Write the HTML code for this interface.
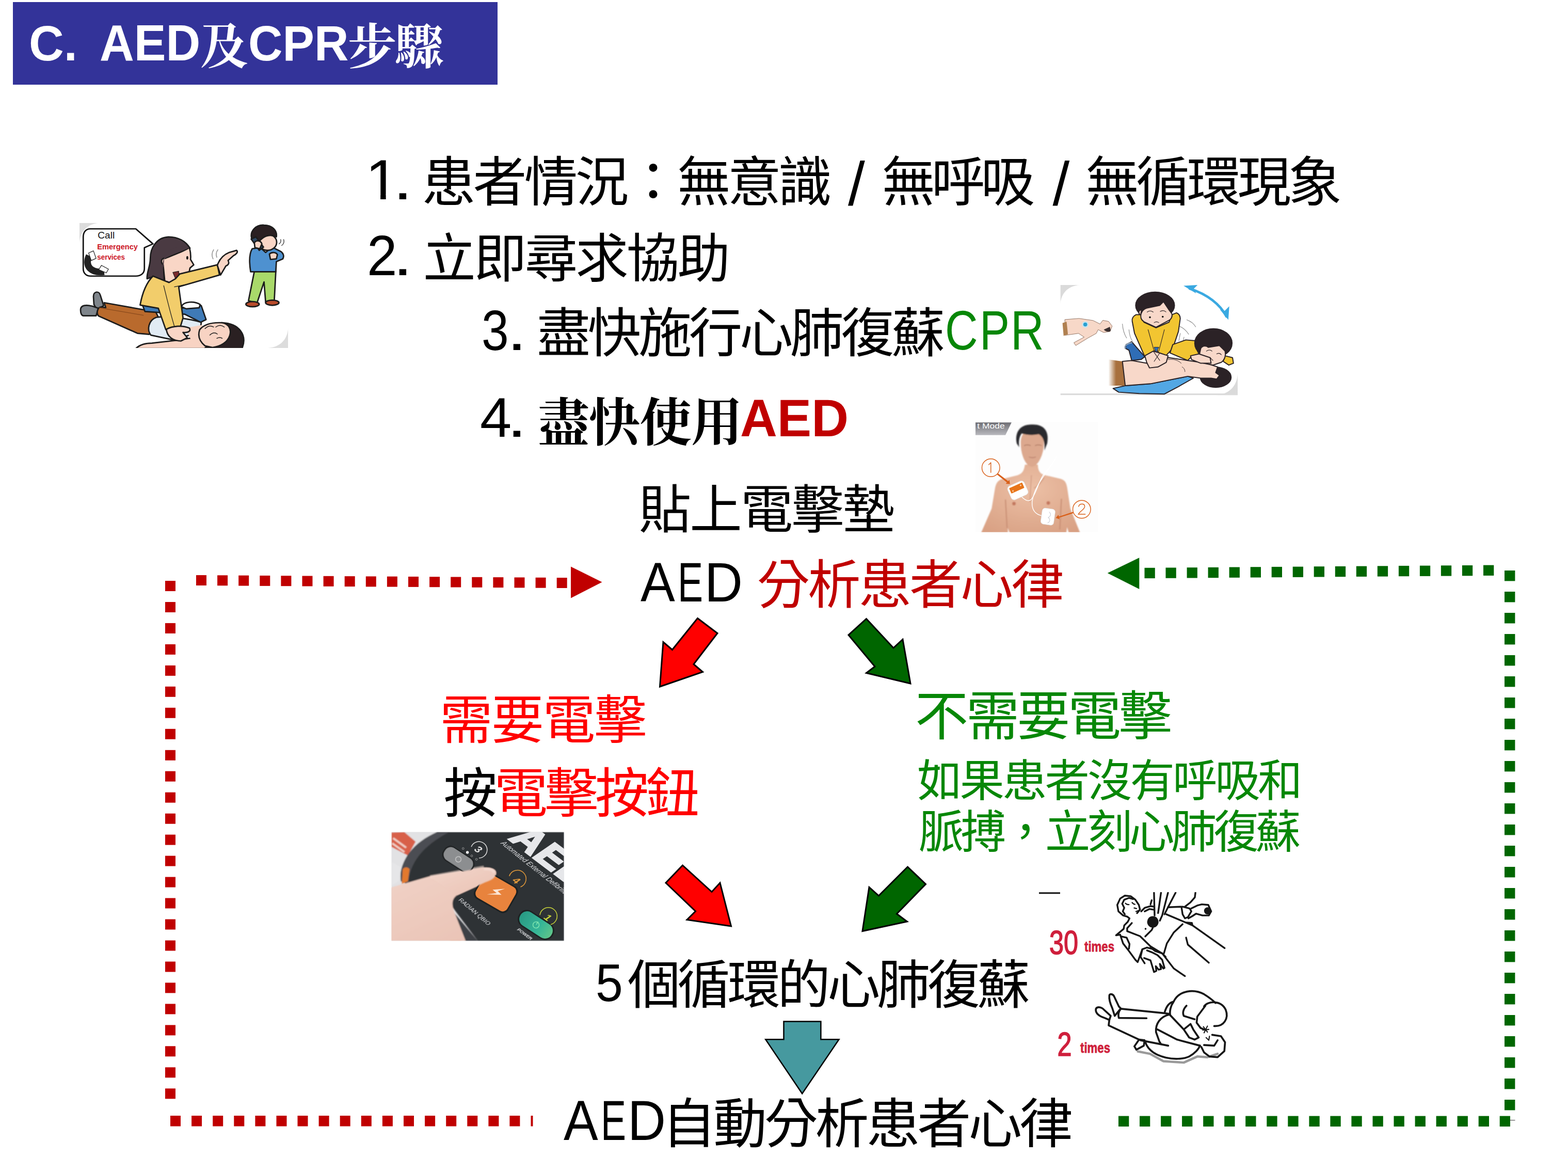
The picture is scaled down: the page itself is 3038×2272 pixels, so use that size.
<!DOCTYPE html>
<html lang="zh-Hant">
<head>
<meta charset="utf-8">
<title>C. AED及CPR步驟</title>
<style>
html,body{margin:0;padding:0;background:#fff}
#slide{position:relative;width:3038px;height:2272px;overflow:hidden;background:#fff;font-family:"Liberation Sans",sans-serif}
#titlebar{position:absolute;left:25px;top:4px;width:939px;height:160px;background:#333399}
.layer{position:absolute;left:0;top:0}
.ill{position:absolute}
.t{position:absolute;white-space:pre;line-height:1;transform-origin:0 0;font-weight:400}
.t.b{font-weight:700}
.sr{position:absolute;left:0;top:0;width:1px;height:1px;margin:-1px;padding:0;overflow:hidden;clip:rect(0 0 0 0);clip-path:inset(50%);white-space:nowrap;color:transparent;font-size:1px}
.lw{display:inline-block;vertical-align:baseline}
.ls{display:inline-block;transform-origin:0 0}
.cj{font-family:"Liberation Sans","Noto Sans CJK SC",sans-serif;font-weight:400}
.cm{font-family:"Liberation Serif","Noto Serif CJK SC",serif;font-weight:700}
</style>
</head>
<body>
<div id="slide">
<div id="titlebar"></div>

<svg class="layer" width="3038" height="2272" viewBox="0 0 3038 2272">
<polygon points="1351.5,1197.5 1390.0,1226.5 1344.0,1286.5 1361.5,1301.5 1278.5,1330.0 1285.0,1243.5 1302.5,1258.5" fill="#ff0000" stroke="#000" stroke-width="3" stroke-linejoin="miter"/>
<polygon points="1678.5,1198.5 1731.0,1255.0 1749.0,1238.5 1764.0,1324.0 1678.5,1303.5 1695.0,1291.0 1644.0,1230.0" fill="#006600" stroke="#000" stroke-width="3" stroke-linejoin="miter"/>
<polygon points="1322.5,1676.0 1379.0,1727.5 1395.0,1710.0 1416.5,1794.0 1331.0,1781.5 1347.5,1765.0 1290.0,1710.0" fill="#ff0000" stroke="#000" stroke-width="3" stroke-linejoin="miter"/>
<polygon points="1758.5,1679.0 1793.5,1712.5 1737.5,1770.0 1757.5,1785.0 1671.0,1803.5 1684.0,1718.5 1702.5,1735.0" fill="#006600" stroke="#000" stroke-width="3" stroke-linejoin="miter"/>
<polygon points="1518.5,1978.5 1590.4,1978.5 1590.4,2013.3 1625.5,2013.3 1554.2,2118.3 1483.3,2013.3 1518.5,2013.3" fill="#46999f" stroke="#000" stroke-width="2.5" stroke-linejoin="miter"/>
<g fill="#c00000">
<rect x="380.0" y="1114.0" width="20.0" height="20.0"/>
<rect x="421.1" y="1114.3" width="20.0" height="20.0"/>
<rect x="462.2" y="1114.6" width="20.0" height="20.0"/>
<rect x="503.3" y="1114.9" width="20.0" height="20.0"/>
<rect x="544.4" y="1115.2" width="20.0" height="20.0"/>
<rect x="585.5" y="1115.5" width="20.0" height="20.0"/>
<rect x="626.6" y="1115.8" width="20.0" height="20.0"/>
<rect x="667.7" y="1116.1" width="20.0" height="20.0"/>
<rect x="708.8" y="1116.4" width="20.0" height="20.0"/>
<rect x="749.9" y="1116.6" width="20.0" height="20.0"/>
<rect x="791.0" y="1116.9" width="20.0" height="20.0"/>
<rect x="832.1" y="1117.2" width="20.0" height="20.0"/>
<rect x="873.2" y="1117.5" width="20.0" height="20.0"/>
<rect x="914.3" y="1117.8" width="20.0" height="20.0"/>
<rect x="955.4" y="1118.1" width="20.0" height="20.0"/>
<rect x="996.5" y="1118.4" width="20.0" height="20.0"/>
<rect x="1037.6" y="1118.7" width="20.0" height="20.0"/>
<rect x="1078.7" y="1119.0" width="20.0" height="20.0"/>
<rect x="320.0" y="1125.0" width="20.0" height="20.0"/>
<rect x="320.0" y="1166.0" width="20.0" height="20.0"/>
<rect x="320.0" y="1206.9" width="20.0" height="20.0"/>
<rect x="320.0" y="1247.9" width="20.0" height="20.0"/>
<rect x="320.0" y="1288.9" width="20.0" height="20.0"/>
<rect x="320.0" y="1329.8" width="20.0" height="20.0"/>
<rect x="320.0" y="1370.8" width="20.0" height="20.0"/>
<rect x="320.0" y="1411.8" width="20.0" height="20.0"/>
<rect x="320.0" y="1452.8" width="20.0" height="20.0"/>
<rect x="320.0" y="1493.7" width="20.0" height="20.0"/>
<rect x="320.0" y="1534.7" width="20.0" height="20.0"/>
<rect x="320.0" y="1575.7" width="20.0" height="20.0"/>
<rect x="320.0" y="1616.6" width="20.0" height="20.0"/>
<rect x="320.0" y="1657.6" width="20.0" height="20.0"/>
<rect x="320.0" y="1698.6" width="20.0" height="20.0"/>
<rect x="320.0" y="1739.5" width="20.0" height="20.0"/>
<rect x="320.0" y="1780.5" width="20.0" height="20.0"/>
<rect x="320.0" y="1821.5" width="20.0" height="20.0"/>
<rect x="320.0" y="1862.5" width="20.0" height="20.0"/>
<rect x="320.0" y="1903.4" width="20.0" height="20.0"/>
<rect x="320.0" y="1944.4" width="20.0" height="20.0"/>
<rect x="320.0" y="1985.4" width="20.0" height="20.0"/>
<rect x="320.0" y="2026.3" width="20.0" height="20.0"/>
<rect x="320.0" y="2067.3" width="20.0" height="20.0"/>
<rect x="320.0" y="2108.3" width="20.0" height="20.0"/>
<rect x="330.0" y="2161" width="20" height="20.5"/>
<rect x="371.1" y="2161" width="20" height="20.5"/>
<rect x="412.2" y="2161" width="20" height="20.5"/>
<rect x="453.3" y="2161" width="20" height="20.5"/>
<rect x="494.4" y="2161" width="20" height="20.5"/>
<rect x="535.5" y="2161" width="20" height="20.5"/>
<rect x="576.5" y="2161" width="20" height="20.5"/>
<rect x="617.6" y="2161" width="20" height="20.5"/>
<rect x="658.7" y="2161" width="20" height="20.5"/>
<rect x="699.8" y="2161" width="20" height="20.5"/>
<rect x="740.9" y="2161" width="20" height="20.5"/>
<rect x="782.0" y="2161" width="20" height="20.5"/>
<rect x="823.1" y="2161" width="20" height="20.5"/>
<rect x="864.2" y="2161" width="20" height="20.5"/>
<rect x="905.3" y="2161" width="20" height="20.5"/>
<rect x="946.4" y="2161" width="20" height="20.5"/>
<rect x="987.4" y="2161" width="20" height="20.5"/>
<rect x="1028.5" y="2161" width="4" height="20.5"/>
<polygon points="1106,1097.5 1166.5,1127.5 1106,1158.5"/>
</g>
<g fill="#006600">
<rect x="2217.5" y="1099.8" width="20.3" height="20.3"/>
<rect x="2258.5" y="1099.5" width="20.3" height="20.3"/>
<rect x="2299.6" y="1099.2" width="20.3" height="20.3"/>
<rect x="2340.6" y="1098.9" width="20.3" height="20.3"/>
<rect x="2381.6" y="1098.5" width="20.3" height="20.3"/>
<rect x="2422.7" y="1098.2" width="20.3" height="20.3"/>
<rect x="2463.7" y="1097.9" width="20.3" height="20.3"/>
<rect x="2504.7" y="1097.6" width="20.3" height="20.3"/>
<rect x="2545.7" y="1097.2" width="20.3" height="20.3"/>
<rect x="2586.8" y="1096.9" width="20.3" height="20.3"/>
<rect x="2627.8" y="1096.6" width="20.3" height="20.3"/>
<rect x="2668.8" y="1096.3" width="20.3" height="20.3"/>
<rect x="2709.9" y="1095.9" width="20.3" height="20.3"/>
<rect x="2750.9" y="1095.6" width="20.3" height="20.3"/>
<rect x="2791.9" y="1095.3" width="20.3" height="20.3"/>
<rect x="2832.9" y="1095.0" width="20.3" height="20.3"/>
<rect x="2874.0" y="1094.6" width="20.3" height="20.3"/>
<rect x="2915.0" y="1105.0" width="20.4" height="20.4"/>
<rect x="2915.0" y="1146.0" width="20.4" height="20.4"/>
<rect x="2915.0" y="1187.0" width="20.4" height="20.4"/>
<rect x="2915.0" y="1228.0" width="20.4" height="20.4"/>
<rect x="2915.0" y="1269.0" width="20.4" height="20.4"/>
<rect x="2915.0" y="1310.0" width="20.4" height="20.4"/>
<rect x="2915.0" y="1351.0" width="20.4" height="20.4"/>
<rect x="2915.0" y="1392.0" width="20.4" height="20.4"/>
<rect x="2915.0" y="1433.0" width="20.4" height="20.4"/>
<rect x="2915.0" y="1474.0" width="20.4" height="20.4"/>
<rect x="2915.0" y="1515.0" width="20.4" height="20.4"/>
<rect x="2915.0" y="1556.0" width="20.4" height="20.4"/>
<rect x="2915.0" y="1597.0" width="20.4" height="20.4"/>
<rect x="2915.0" y="1638.0" width="20.4" height="20.4"/>
<rect x="2915.0" y="1679.0" width="20.4" height="20.4"/>
<rect x="2915.0" y="1720.0" width="20.4" height="20.4"/>
<rect x="2915.0" y="1761.0" width="20.4" height="20.4"/>
<rect x="2915.0" y="1802.0" width="20.4" height="20.4"/>
<rect x="2915.0" y="1843.0" width="20.4" height="20.4"/>
<rect x="2915.0" y="1884.0" width="20.4" height="20.4"/>
<rect x="2915.0" y="1925.0" width="20.4" height="20.4"/>
<rect x="2915.0" y="1966.0" width="20.4" height="20.4"/>
<rect x="2915.0" y="2007.0" width="20.4" height="20.4"/>
<rect x="2915.0" y="2048.0" width="20.4" height="20.4"/>
<rect x="2915.0" y="2089.0" width="20.4" height="20.4"/>
<rect x="2915.0" y="2130.0" width="20.4" height="20.4"/>
<rect x="2167.0" y="2161.6" width="20.3" height="20.4"/>
<rect x="2208.0" y="2161.6" width="20.3" height="20.4"/>
<rect x="2249.1" y="2161.6" width="20.3" height="20.4"/>
<rect x="2290.1" y="2161.6" width="20.3" height="20.4"/>
<rect x="2331.2" y="2161.6" width="20.3" height="20.4"/>
<rect x="2372.2" y="2161.6" width="20.3" height="20.4"/>
<rect x="2413.2" y="2161.6" width="20.3" height="20.4"/>
<rect x="2454.3" y="2161.6" width="20.3" height="20.4"/>
<rect x="2495.3" y="2161.6" width="20.3" height="20.4"/>
<rect x="2536.4" y="2161.6" width="20.3" height="20.4"/>
<rect x="2577.4" y="2161.6" width="20.3" height="20.4"/>
<rect x="2618.4" y="2161.6" width="20.3" height="20.4"/>
<rect x="2659.5" y="2161.6" width="20.3" height="20.4"/>
<rect x="2700.5" y="2161.6" width="20.3" height="20.4"/>
<rect x="2741.6" y="2161.6" width="20.3" height="20.4"/>
<rect x="2782.6" y="2161.6" width="20.3" height="20.4"/>
<rect x="2823.6" y="2161.6" width="20.3" height="20.4"/>
<rect x="2864.7" y="2161.6" width="20.3" height="20.4"/>
<rect x="2905.7" y="2161.6" width="20.3" height="20.4"/>
<polygon points="2145.8,1110 2207.3,1080.3 2207.3,1140.9"/>
<rect x="2925" y="2169.3" width="10.5" height="1" fill="#333"/>
</g>
<g fill="#000" font-family="'Liberation Sans',sans-serif" font-size="118" text-anchor="middle">
<text x="1659.3" y="397">/</text>
<text x="2055.8" y="397">/</text>
</g>
</svg>
<svg class="ill" style="left:130px;top:410px" width="460" height="290" viewBox="0 0 2212 1395" role="img" aria-label="Call emergency services illustration">
<defs><clipPath id="c1"><rect x="115" y="105" width="1945" height="1165"/></clipPath></defs>
<g clip-path="url(#c1)" stroke-linejoin="round" stroke-linecap="round">
<rect x="115" y="105" width="1945" height="1165" fill="#fff"/>
<path d="M115 105h190c-110 5-185 75-190 190z" fill="#dcdcdc"/>
<path d="M2060 1270h-190c110-5 185-75 190-190z" fill="#dcdcdc"/>
<!-- lying man: shoes, pants -->
<g stroke="#1c1c1c" stroke-width="13">
<path d="M245 790c0-50 55-55 65-10l30 95-60 40-30-50z" fill="#7f858b"/>
<path d="M125 915c0-45 50-50 110-35l55 20-20 70-120 0c-20-5-25-30-25-55z" fill="#7f858b"/>
<path d="M345 848l480 85 30 60-90 150-110-10-360-160c-25-20-15-85 25-85l40 5z" fill="#b96a2d"/>
<path d="M300 895l410 70" fill="none" stroke="#8a4a1c" stroke-width="6"/>
<!-- shirt -->
<path d="M830 985c120-20 330 20 420 45l-10 90-250 75-210-45c-40-50-20-140 50-165z" fill="#e1ebf4"/>
<!-- patient arm -->
<path d="M640 1275c40-40 90-50 150-50l220-25 230-35 70 110z" fill="#f8d3c3"/>
<!-- neck/chest skin -->
<path d="M1100 1085l160-30 20 130-120 20z" fill="#f8d3c3" stroke="none"/>
<!-- patient hair + face -->
<path d="M1440 1035c170 5 240 120 190 240l-350 0 50-45c110-10 180-90 160-180z" fill="#2a2022"/>
<path d="M1235 1100c40-50 120-70 210-65 60 10 90 60 70 120-20 60-80 100-160 110l-70-15c-50-40-70-90-50-150z" fill="#f8d3c3"/>
<path d="M1285 1090c25-25 55-30 80-15M1385 1075c25-20 55-20 80 0M1330 1150c25-25 50-25 70-10M1395 1180c20-10 35-10 50 0" fill="none" stroke-width="7"/>
</g>
<!-- woman -->
<g stroke="#1c1c1c" stroke-width="13">
<!-- jeans -->
<path d="M700 865l360 35 190-25 45 130-50 25-150-75-370-25z" fill="#3f7ab6"/>
<path d="M1065 885c20-50 120-55 175-20l-10 30-120 10z" fill="#fff"/>
<!-- hair back -->
<path d="M945 235c-110 5-170 100-170 200 0 80-35 130-30 190l60-20 100 75 10-170 230-170c-40-65-110-105-200-105z" fill="#4a3a42"/>
<!-- face -->
<path d="M1140 335c10 40 15 70 10 110l30 50-35 30-10 50-90 5-20 50-55 35-60-20-15-150c-30-30-10-70 20-60 70-30 160-60 225-100z" fill="#f9d6c6"/>
<ellipse cx="1120" cy="430" rx="9" ry="16" fill="#111" stroke="none"/>
<path d="M985 565l55-10 5 55-35 15z" fill="#7b2b2b" stroke-width="5"/>
<!-- hair front lock -->
<path d="M905 440c60-40 160-70 235-105-60-20-150-10-200 40-40 40-60 110-45 170z" fill="#4a3a42" stroke="none"/>
<path d="M900 520l0 140" stroke-width="7" fill="none"/>
<!-- sweater body -->
<path d="M800 600c-60 60-100 160-120 270l170 30 70 200 130-10 30-100-40-290 380-110-20-95-350 85-40 45-60 35z" fill="#f2cd6b"/>
<path d="M900 690c30 120 60 250 100 380M1000 700l100-20" fill="none" stroke-width="6"/>
<!-- pointing hand -->
<path d="M1400 500c20-60 60-100 110-120l70-20c15 15 0 35-30 50l-50 45c15 25 0 45-20 50l-50 85z" fill="#f9d6c6"/>
<!-- hand on chest -->
<path d="M925 1095c60-30 150-40 215-10 20 30-20 45-60 40l40 50-60 30c-70 0-130-40-135-110z" fill="#f9d6c6"/>
</g>
<path d="M1360 440c-15-30-10-60 5-85M1395 425c-10-25-5-50 10-70" fill="none" stroke="#9a9a9a" stroke-width="8"/>
<!-- boy -->
<g stroke="#1c1c1c" stroke-width="13">
<path d="M1690 830l55-275 200 0-15 285-80 5-15-190-65 195z" fill="#a9d96a"/>
<ellipse cx="1728" cy="862" rx="62" ry="24" fill="#b94b2b"/>
<ellipse cx="1912" cy="848" rx="62" ry="24" fill="#b94b2b"/>
<path d="M1725 345c-25 40-30 120-15 215l235 0 5-95 60-25c15-25 5-55-20-70l-80-40-60 50-50-45z" fill="#4e91d0"/>
<path d="M1885 395c20-20 60-20 75 5l-10 40-55 5z" fill="#f9d6c6"/>
<ellipse cx="1868" cy="285" rx="85" ry="75" fill="#f9d6c6"/>
<path d="M1720 250c-20-70 40-130 115-125 75 0 125 50 115 110-60-30-110-10-150 30l-30 60z" fill="#2a2022"/>
<path d="M1715 255l45-20 70 95-40 30z" fill="#2f4a66"/>
<path d="M1745 290c20-30 60-20 70 10l-20 45-45-10z" fill="#f9d6c6"/>
</g>
<path d="M1975 300c15-10 20-25 15-40M2000 315c20-15 25-35 18-55" fill="none" stroke="#444" stroke-width="7"/>
<!-- speech bubble -->
<path d="M215 160h425l160 140-80 35v195c0 45-35 70-80 70h-420c-45 0-70-30-70-70v-295c0-45 25-75 65-75z" fill="#fff" stroke="#111" stroke-width="13"/>
<path d="M205 410c-45 100 20 165 140 150" fill="none" stroke="#222" stroke-width="62" stroke-linecap="butt"/>
<path d="M200 385l45-20 25 70-45 20zM320 500l65 35-20 35-70-30z" fill="#fff" stroke="#222" stroke-width="6"/>
<text x="285" y="250" font-family="Liberation Sans, sans-serif" font-size="88" fill="#111" textLength="158" lengthAdjust="spacingAndGlyphs">Call</text>
<text x="280" y="350" font-family="Liberation Sans, sans-serif" font-weight="700" font-size="70" fill="#cc1424" textLength="378" lengthAdjust="spacingAndGlyphs">Emergency</text>
<text x="280" y="445" font-family="Liberation Sans, sans-serif" font-weight="700" font-size="70" fill="#cc1424" textLength="258" lengthAdjust="spacingAndGlyphs">services</text>
</g>
</svg>

<svg class="ill" style="left:2030px;top:530px" width="400" height="260" viewBox="0 0 2212 1438" role="img" aria-label="CPR chest compression illustration">
<defs><clipPath id="c2"><rect x="135" y="122" width="1900" height="1180"/></clipPath>
<linearGradient id="g2b" x1="0" x2="1"><stop offset="0" stop-color="#fff"/><stop offset=".45" stop-color="#a8703d"/><stop offset="1" stop-color="#a8703d"/></linearGradient></defs>
<g clip-path="url(#c2)" stroke-linejoin="round" stroke-linecap="round">
<rect x="135" y="122" width="1900" height="1180" fill="#fff"/>
<path d="M135 122h210c-120 5-205 85-210 210z" fill="#dadada"/>
<path d="M2035 1302h-230c130-5 225-95 230-230z" fill="#dadada"/>
<rect x="135" y="1284" width="1900" height="18" fill="#dadada"/>
<!-- small torso diagram -->
<g stroke="#8a6a5a" stroke-width="5">
<path d="M185 492l150-12 150 22 75 38 30-40 62 12 38 50-22 58-70 10-58-30-20 40-90 50-130 80-20-30 110-60-60-40-140 20z" fill="#f7d8c8"/>
<path d="M158 530l44-16 14 136-46 16z" fill="#b08050" stroke="none"/>
</g>
<circle cx="402" cy="545" r="34" fill="#bfe6f5"/><circle cx="402" cy="545" r="21" fill="#2a9fd0"/>
<path d="M600 600c25 25 60 30 75 10l-10-40z" fill="#3a3030"/>
<!-- blue double arrow -->
<path d="M1520 160c190 60 330 170 395 300" fill="none" stroke="#3aa9e1" stroke-width="26"/>
<path d="M1455 130l150-8-40 40 25 50z" fill="#3aa9e1"/>
<path d="M1935 495l-90-110 50 15 50-50z" fill="#3aa9e1"/>
<!-- motion lines -->
<g fill="none" stroke="#8a8a8a" stroke-width="6">
<path d="M800 540c5 60 20 110 45 150M870 600c5 50 15 90 35 120M1490 495c40 15 75 40 95 75M1350 540c70 20 130 60 160 110M1420 640l-15 80M1460 680l-10 50"/>
</g>
<!-- lying patient -->
<g stroke="#2a2226" stroke-width="11">
<path d="M830 1200l270-20 400-80 60 20-160 90-150 80-270-5-220-15-60-40z" fill="#52a7e4"/>
<path d="M650 920l150 20 30 260-180 0z" fill="url(#g2b)" stroke="none"/>
<ellipse cx="1800" cy="1110" rx="165" ry="108" fill="#2b2226"/>
<path d="M800 940l100-10 160 30 240-60 200 30 200 30 120 40-20 60 40 30-30 40-60-10-110 0-140-20-400 80-270 20z" fill="#f8d8c9"/>
<path d="M1290 920c60-10 110 10 140 40M1440 1000c20 10 30 30 30 50" fill="none" stroke-width="5"/>
</g>
<!-- kid 1 -->
<g stroke="#2a2226" stroke-width="11">
<path d="M900 730l60 70 80 90-40 30-100 10-30-110-40-20 10-40z" fill="#2f6db6"/>
<path d="M830 800c-10-30 20-50 70-60" fill="none" stroke="#8aa0b8" stroke-width="14"/>
<path d="M945 440c-30 15-45 40-40 70l25 130 110 250 100-40 20-50 30 50 75 30 75-80 60-180 20-140c0-30-20-55-40-60l-50 20-30 80-140 60-130-60-30-80z" fill="#f2c531"/>
<path d="M1075 600l65 230M1250 600l-60 230" fill="none" stroke-width="6"/>
<path d="M1140 790l20 60 30-60z" fill="#2f6db6" stroke-width="5"/>
<path d="M1040 880l90-50 70 20 90 30-20 70-90 50-90 10-30-60z" fill="#f8d8c9"/>
<path d="M1130 830l70 100M1200 850l-60 90" fill="none" stroke-width="6"/>
<ellipse cx="1150" cy="340" rx="208" ry="142" fill="#2b2226"/>
<path d="M1000 430c10-30 30-50 60-60l140-30 40-40 60 90 30 40c10 30-10 60-30 70l-140 75-130-60c-30-20-40-50-30-85z" fill="#f8d8c9"/>
<path d="M990 440c-20-10-20-50 10-50" fill="#f8d8c9"/>
<circle cx="1095" cy="468" r="10" fill="#111" stroke="none"/><circle cx="1232" cy="462" r="10" fill="#111" stroke="none"/>
<path d="M1065 412c20-15 45-15 65 0M1205 405c20-12 45-10 62 5M1140 525c15-10 35-10 50 0" fill="none" stroke-width="6"/>
</g>
<!-- kid 2 -->
<g stroke="#2a2226" stroke-width="11">
<path d="M1340 760l140-50 120 10-10 80 30 60-80 30-40 40-190-80z" fill="#f2c531"/>
<path d="M1900 880l80 20 10 60-50 20-60-40z" fill="#f2c531"/>
<ellipse cx="1775" cy="745" rx="200" ry="155" fill="#2b2226"/>
<path d="M1640 800c20-30 60-30 80-10l120-20 60 60c10 40 0 90-40 120l-90 30-100-20-50-70z" fill="#f8d8c9"/>
<path d="M1530 880l90-20 120 40 10 60-110 0-100-40z" fill="#f8d8c9"/>
<path d="M1700 830c20-15 45-15 60 0M1810 860c20-10 40-5 50 10M1740 900l30 30" fill="none" stroke-width="6"/>
</g>
</g>
</svg>

<svg class="ill" style="left:1860px;top:790px" width="300" height="260" viewBox="0 0 1908 1654" role="img" aria-label="AED pad placement on chest">
<defs><clipPath id="c3"><rect x="190" y="170" width="1510" height="1362"/></clipPath>
<linearGradient id="g3a" x1="0" y1="0" x2="0" y2="1"><stop offset="0" stop-color="#6e6e74"/><stop offset="1" stop-color="#b9b9be"/></linearGradient>
<radialGradient id="g3s" cx=".5" cy=".35" r=".75"><stop offset="0" stop-color="#ecc0a6"/><stop offset="1" stop-color="#d9a184"/></radialGradient>
<filter id="b3" x="-10%" y="-10%" width="120%" height="120%"><feGaussianBlur stdDeviation="6"/></filter>
</defs>
<g clip-path="url(#c3)">
<rect x="190" y="170" width="1510" height="1362" fill="#fdfdfd"/>
<path d="M190 180h445l-75 155h-370z" fill="url(#g3a)"/>
<text x="212" y="252" font-family="Liberation Sans, sans-serif" font-size="92" fill="#fff" textLength="340" lengthAdjust="spacingAndGlyphs">t Mode</text>
<g filter="url(#b3)">
<!-- torso -->
<path d="M800 700c-10 70-30 110-90 130l-200 50c-50 20-70 60-80 120l-40 240-130 300 330 0 0-60 20 60 700 0 10-70 20 70 140 0-120-300-40-260c-10-60-30-90-80-105l-210-50c-50-20-70-60-70-125z" fill="url(#g3s)"/>
<!-- arm shading -->
<path d="M560 1130l20 350M1250 1120l-20 380" stroke="#c98f74" stroke-width="14" fill="none"/>
<path d="M880 830l-20 330M1040 860c-40 60-80 110-130 130" stroke="#d19a80" stroke-width="10" fill="none"/>
<!-- face -->
<path d="M748 430c0-110 60-160 140-160 90 0 145 55 145 165 0 120-50 230-105 275-30 20-60 20-90-5-50-45-90-150-90-275z" fill="#dca88e"/>
<path d="M790 465c25-12 55-12 80 0M925 465c25-12 55-12 80 0" stroke="#a06a55" stroke-width="9" fill="none"/>
<path d="M850 605c25 10 60 10 85 0" stroke="#b57a68" stroke-width="9" fill="none"/>
<!-- hair -->
<path d="M700 440c-30-140 40-240 190-235 130-5 215 70 185 230l-35 90c10-110-20-175-70-200-70 15-150 10-210-10-30 40-40 100-30 170z" fill="#2c2c2f"/>
<circle cx="665" cy="1180" r="22" fill="#c4785f"/><circle cx="1088" cy="1172" r="22" fill="#c4785f"/>
</g>
<!-- cables -->
<g fill="none" stroke="#fff" stroke-width="9" stroke-linecap="round">
<path d="M760 1095c40 40 80 60 110 40 60-50 90-200 150-300 60-80 120-140 150-200"/>
<path d="M1010 1330c-90-20-130-80-120-180 20-140 100-250 170-350 50-70 90-130 130-200"/>
</g>
<!-- pad 1 -->
<g transform="rotate(-24 710 1018)">
<rect x="600" y="925" width="225" height="185" rx="40" fill="#fff" stroke="#d8d8d8" stroke-width="4"/>
<rect x="625" y="950" width="175" height="72" rx="8" fill="#e8751a"/>
<circle cx="655" cy="1000" r="10" fill="#f7c9a0"/><circle cx="770" cy="975" r="10" fill="#f7c9a0"/>
</g>
<!-- pad 2 -->
<g transform="rotate(8 1083 1340)">
<rect x="1003" y="1240" width="162" height="200" rx="36" fill="#fff" stroke="#d8d8d8" stroke-width="4"/>
<path d="M1090 1280c30 20 30 50 0 70 30 20 30 50 0 70" stroke="#c9ccd4" stroke-width="7" fill="none"/>
</g>
<!-- orange callouts -->
<g fill="none" stroke="#d9601a" stroke-width="9" stroke-linecap="round">
<circle cx="380" cy="738" r="110"/><circle cx="1500" cy="1250" r="110"/>
<path d="M380 676v120M355 700l25-26"/>
<path d="M1462 1215c10-40 75-40 75 0 0 35-55 55-78 95h85"/>
</g>
<path d="M455 820l14-12 125 95 14-16 8 52-52-4 14-16z" fill="#d9601a"/>
<path d="M1392 1282l5 16-175 55 8 20-50-16 32-38 8 20z" fill="#d9601a"/>
</g>
</svg>

<svg class="ill" style="left:740px;top:1590px" width="370" height="250" viewBox="0 0 2212 1495" role="img" aria-label="Finger pressing AED shock button">
<defs><clipPath id="c4"><rect x="110" y="128" width="2000" height="1262"/></clipPath>
<filter id="b4" x="-5%" y="-5%" width="110%" height="110%"><feGaussianBlur stdDeviation="7"/></filter>
<filter id="b4s" x="-5%" y="-5%" width="110%" height="110%"><feGaussianBlur stdDeviation="3"/></filter>
<linearGradient id="g4h" x1="0" y1="0" x2="1" y2="1"><stop offset="0" stop-color="#f3d6cb"/><stop offset="1" stop-color="#e9c2b4"/></linearGradient>
<linearGradient id="g4g" x1="0" y1="0" x2="1" y2="0"><stop offset="0" stop-color="#2a9a84"/><stop offset=".6" stop-color="#35b597"/><stop offset="1" stop-color="#5fc58a"/></linearGradient>
</defs>
<g clip-path="url(#c4)">
<rect x="110" y="128" width="2000" height="1262" fill="#e0e0e2"/>
<g filter="url(#b4)">
<!-- background sheet + red label -->
<path d="M110 128h600l-500 600-100 30z" fill="#e2e2e4"/>
<path d="M110 135l150-5 130 110-90 160-190-100z" fill="#d8604a"/><path d="M130 200l150 110M120 260l140 100" stroke="#f0d0c8" stroke-width="22" fill="none"/>
<path d="M110 480l120 60-30 150-90 60z" fill="#e6e6e8"/>
<!-- device body -->
<path d="M640 128h1470v1262h-1000l-330-440-560-250c-30-150 60-400 420-572z" fill="#2f3234"/>
<!-- rim -->
<path d="M640 128c-280 120-440 330-420 560l90 40c0-230 160-440 470-600z" fill="#4b4e53"/>
<path d="M740 950l370 440h-150l-300-420z" fill="#3d4044"/>
<!-- orange peek -->
<path d="M240 560c20-30 60-30 80 0l-20 140-70 30z" fill="#e2792f"/>
<path d="M830 1330l90 60h-130z" fill="#e2792f"/>
<!-- hand -->
<path d="M110 770l450-130 560-90c110-20 210 0 200 60-10 60-60 80-120 100l-330 150c-70 50-60 120-30 200l130 330h-1460z" fill="url(#g4h)"/>
<path d="M560 650l620-110" stroke="#f6ddd4" stroke-width="40" fill="none" opacity=".6"/>
</g>
<g filter="url(#b4s)">
<!-- AE big letters -->
<text transform="matrix(3.71 2.80 -3.66 2.51 1459 207)" x="0" y="0" font-family="Liberation Sans, sans-serif" font-weight="700" font-size="100" fill="#e6e7ea" stroke="#e6e7ea" stroke-width="5">AED</text>
<text transform="matrix(.782 .623 -.825 .566 1372 262)" x="0" y="0" font-family="Liberation Sans, sans-serif" font-style="italic" font-size="84" fill="#dcdde0" textLength="1040" lengthAdjust="spacingAndGlyphs">Automated External Defibrillator</text>
<text transform="matrix(.76 .65 -.825 .566 882 918)" x="0" y="0" font-family="Liberation Sans, sans-serif" font-size="70" fill="#dcdde0" textLength="455" lengthAdjust="spacingAndGlyphs">RADIAN QBIO</text>
<text transform="matrix(.80 .60 -.825 .566 1560 1262)" x="0" y="0" font-family="Liberation Sans, sans-serif" font-weight="700" font-size="56" fill="#dcdde0" textLength="200" lengthAdjust="spacingAndGlyphs">POWER</text>
<!-- gray button -->
<g transform="rotate(33 885 445)"><rect x="685" y="350" width="400" height="190" rx="85" fill="#1e2022"/><rect x="700" y="362" width="370" height="166" rx="75" fill="#8c8e90"/><circle cx="885" cy="445" r="32" fill="none" stroke="#d0d0d0" stroke-width="8"/></g>
<!-- 3 circle -->
<path d="M1035 300a95 95 0 1 1 90 130" fill="none" stroke="#e0e0e0" stroke-width="9"/>
<text transform="matrix(.78 .62 -.825 .566 1118 330)" x="-33" y="42" font-family="Liberation Sans, sans-serif" font-weight="700" font-size="118" fill="#e0e0e0">3</text>
<circle cx="990" cy="365" r="16" fill="#fff"/><circle cx="940" cy="320" r="11" fill="none" stroke="#aaa" stroke-width="5"/><circle cx="1040" cy="405" r="11" fill="none" stroke="#aaa" stroke-width="5"/><circle cx="1095" cy="445" r="11" fill="none" stroke="#aaa" stroke-width="5"/>
<!-- orange button -->
<g transform="rotate(30 1320 830)"><rect x="1095" y="655" width="450" height="350" rx="70" fill="#1e2022"/><rect x="1112" y="672" width="416" height="316" rx="60" fill="#e8833c"/>
<path d="M1390 740l-120 80 60 10-90 70 150-80-60-15z" fill="#fbe6d6"/></g>
<path d="M1475 640a100 100 0 1 1 130 125" fill="none" stroke="#e39a3a" stroke-width="9"/>
<text transform="matrix(.78 .62 -.825 .566 1560 690)" x="-33" y="42" font-family="Liberation Sans, sans-serif" font-weight="700" font-size="118" fill="#e39a3a">4</text>
<!-- green button -->
<g transform="rotate(33 1785 1205)"><rect x="1555" y="1100" width="460" height="210" rx="100" fill="#1e2022"/><rect x="1572" y="1115" width="426" height="180" rx="88" fill="url(#g4g)"/>
<circle cx="1785" cy="1205" r="36" fill="none" stroke="#7fe6b0" stroke-width="9"/><path d="M1785 1160v40" stroke="#7fe6b0" stroke-width="9"/></g>
<path d="M1830 1090a100 100 0 1 1 125 110" fill="none" stroke="#c9d43a" stroke-width="9"/>
<text transform="matrix(.78 .62 -.825 .566 1925 1120)" x="-33" y="42" font-family="Liberation Sans, sans-serif" font-weight="700" font-size="118" fill="#c9d43a">1</text>
</g>
<!-- finger on top of orange button -->
<g filter="url(#b4)">
<path d="M560 650l560-100c110-20 210 0 200 60-10 60-60 80-120 100l-330 150z" fill="url(#g4h)"/>
<path d="M1180 560c60-10 110 10 120 40" stroke="#f3d8ce" stroke-width="30" fill="none"/>
</g>
</g>
</svg>

<svg class="ill" style="left:1990px;top:1700px" width="420" height="400" viewBox="1990 1700 420 400" role="img" aria-label="30 compressions, 2 breaths">
<defs><clipPath id="c5"><rect x="1990" y="1728" width="420" height="372"/></clipPath></defs>
<g clip-path="url(#c5)">
<rect x="2013" y="1728.3" width="41" height="3" fill="#111"/>
<!-- figure A: chest compressions -->
<g transform="translate(2150 1720) scale(.11302)" fill="none" stroke="#161616" stroke-width="30" stroke-linecap="round" stroke-linejoin="round">
<path d="M470 430l50-60-20-80-60-90-80-60-100-10-80 50-50 110 20 110 80 70 70 20 40 30-30 60-60 60-10 60-130 110 70-10"/>
<path d="M215 270l35-70 80-30 70 20M215 270l35 70-25 60 35 50"/>
<path d="M270 262c20 20 40 25 60 22M385 250c15 20 30 28 48 30M420 342l40 10M450 402l58-22" stroke-width="20"/>
<path d="M380 600l-80 90 0 50 220 85 180 175 200 120 60 60"/>
<path d="M180 800l50 150 100 130 110 150 40 40 80-220 80-30 80 20"/>
<path d="M200 830l90 20 50 110-10 80"/>
<path d="M560 1050l-30 130 70 110M590 1200l110 40 60 200 40-20-10-80 50 60 40-10-20-90 60 80 20-10-40-140-80-80-100-50-80-30"/>
<path d="M900 1120l-120-40-80-60"/>
<path d="M610 830l110-110 20-40"/>
<path d="M540 400l60-60 100-30 60 10M600 400l80-40 70 10M720 210l-20 70"/>
<path d="M760 80l10 390M880 80l-50 350M1000 80l-100 390-40 90M1130 80l-130 250-60 120"/>
<path d="M1000 330l230-10 20 130 40 70 50-20 60-100-30-50-120-30"/>
<path d="M1400 350l100-50 80-20 110 10 50 110-40 70-110 0-110-30-60 40-70 40"/>
<path d="M1470 80l-10 80-80 90-90 70"/>
<path d="M970 450l450 190 550 390M1300 590l110 10 10 40"/>
<path d="M1250 620l-150 140-120 190-50 170"/>
<path d="M900 1120l100 130 100 130 190 130"/>
<path d="M1310 850l30 120 360 310"/>
<circle cx="740" cy="580" r="98" fill="#161616" stroke="none"/>
<circle cx="1680" cy="392" r="62" fill="#161616" stroke="none"/>
<circle cx="615" cy="700" r="16" fill="#161616" stroke="none"/>
</g>
<!-- figure B: rescue breaths -->
<g transform="translate(2110 1910) scale(.13110)" fill="none" stroke-linecap="round" stroke-linejoin="round">
<path d="M720 965l180 35 200 110 300 20 200-90 150 10 150-50" stroke="#9a9a9a" stroke-width="34"/>
<g stroke="#161616" stroke-width="28">
<path d="M300 140c0-30 50-30 70 10l70 150 30 30-90 110-35-110c-45-100-50-150-45-190z"/>
<path d="M100 350c0-40 50-50 100-20l120 110-20 60-70-30c-90-30-130-70-130-120z"/>
<path d="M470 335l640 65 80 10M440 470l410 5M470 335c-40 45-40 95-30 135"/>
<path d="M300 500l-10 80 470 220 410 80"/>
<path d="M1190 420c-140 30-210 140-200 260l50 140 20 30"/>
<path d="M670 890l70-100 80 10-10 80-110 60zM820 800l30 70c100 190 450 250 630 170 80-40 140-110 160-160"/>
<path d="M1010 640l290 150 340 90"/>
<path d="M1120 380c30-100 80-140 130-150 80-170 300-190 450-110 80 50 140 100 170 130M1250 230c-50 70-60 150-50 200"/>
<path d="M1700 300c50-80 250-100 320 50 50 130-30 250-170 240"/>
<path d="M1440 290c-50 50-60 110-40 150l160 50M1200 430l200 210 80 120 80 30 60-30-80-120-40-80M1400 640l100-80"/>
<path d="M1720 290l-120 160-10 90 60 80 50 20"/>
<path d="M1820 720l130 20 60 90-10 130-100 90-120-10-80-60-40-80M1700 870l150 10 50-80"/>
<path d="M1690 600l60 80M1750 590l-50 100M1680 650l90-10M1730 760l40 40M1780 740l-10 60" stroke-width="16"/>
</g>
</g>
<g font-family="Liberation Sans, sans-serif" fill="#cf1f3c">
<text x="2033" y="1847.5" font-size="64" stroke="#cf1f3c" stroke-width="1.6" textLength="56" lengthAdjust="spacingAndGlyphs">30</text>
<text x="2101" y="1843" font-size="28" font-weight="700" stroke="#cf1f3c" stroke-width="0.8" textLength="58" lengthAdjust="spacingAndGlyphs">times</text>
<text x="2048.5" y="2044.5" font-size="64" stroke="#cf1f3c" stroke-width="1.6" textLength="28" lengthAdjust="spacingAndGlyphs">2</text>
<text x="2093" y="2038.5" font-size="28" font-weight="700" stroke="#cf1f3c" stroke-width="0.8" textLength="58" lengthAdjust="spacingAndGlyphs">times</text>
</g>
</g>
</svg>

<svg class="layer" width="3038" height="2272" viewBox="0 0 3038 2272">
<text class="cj" fill="#000" font-size="104.08" y="389.53" x="817.40 916.46 1015.51 1114.57 1213.62">患者情況：</text>
<text class="cj" fill="#000" font-size="104.08" y="389.53" x="1311.89 1409.87 1507.85">無意識</text>
<text class="cj" fill="#000" font-size="104.08" y="389.53" x="1708.44 1804.52 1900.60">無呼吸</text>
<text class="cj" fill="#000" font-size="104.08" y="389.53" x="2103.18 2201.30 2299.42 2397.54 2495.66">無循環現象</text>
<text class="cj" fill="#000" font-size="102.37" y="536.61" x="819.47 918.06 1016.64 1115.23 1213.81 1312.40">立即尋求協助</text>
<text class="cj" fill="#000" font-size="103.67" y="682.29" x="1040.33 1138.50 1236.66 1334.82 1432.98 1531.14 1629.30 1727.46">盡快施行心肺復蘇</text>
<text class="cm" fill="#000" font-size="100" y="854.30" x="1042.00 1140.97 1239.93 1338.90">盡快使用</text>
<text class="cj" fill="#000" font-size="101.52" y="1022.78" x="1237.65 1336.37 1435.09 1533.81 1632.53">貼上電擊墊</text>
<text class="cj" fill="#c00000" font-size="102.70" y="1168.77" x="1466.41 1564.91 1663.41 1761.91 1860.41 1958.91">分析患者心律</text>
<text class="cj" fill="#ff0000" font-size="102.13" y="1430.79" x="852.36 951.99 1051.62 1151.24">需要電擊</text>
<text class="cj" fill="#078707" font-size="103.21" y="1424.20" x="1772.96 1871.64 1970.33 2069.01 2167.69">不需要電擊</text>
<text class="cj" fill="#000" font-size="104.10" y="1574.07" x="859.38">按</text>
<text class="cj" fill="#ff0000" font-size="104.10" y="1574.07" x="957.27 1055.17 1153.06 1250.96">電擊按鈕</text>
<text class="cj" fill="#078707" font-size="86.49" y="1542.65" x="1777.15 1859.62 1942.09 2024.55 2107.02 2189.49 2271.96 2354.43 2436.90">如果患者沒有呼吸和</text>
<text class="cj" fill="#078707" font-size="87.82" y="1641.80" x="1779.78 1861.40 1943.02 2024.64 2106.26 2187.89 2269.51 2351.13 2432.75">脈搏，立刻心肺復蘇</text>
<text class="cj" fill="#000" font-size="102.59" y="1944.09" x="1215.76 1312.58 1409.40 1506.22 1603.04 1699.86 1796.68 1893.50">個循環的心肺復蘇</text>
<text class="cj" fill="#000" font-size="104.10" y="2213.65" x="1283.03 1381.89 1480.76 1579.62 1678.48 1777.34 1876.20 1975.06">自動分析患者心律</text>
<text class="cm" fill="#fff" font-size="96" x="386.97" y="123.41">及</text>
<text class="cm" fill="#fff" font-size="94.5" y="124.11" x="673.81 764.93">步驟</text>
</svg>
<div class="t b" style="left:55.65px;top:35.17px;font-size:96.67px;color:#fff;transform:scaleX(0.9704)">C.</div>
<div class="t b" style="left:192.70px;top:34.56px;font-size:97.39px;color:#fff;transform:scaleX(0.9493)">AED</div>
<div class="t b" style="left:481.22px;top:35.17px;font-size:96.67px;color:#fff;transform:scaleX(0.9525)">CPR</div>
<div class="t" style="left:708.42px;top:294.28px;font-size:109.89px;color:#000"><span class="lw" style="width:52.73px"><span class="ls" style="transform:scaleX(1.0598);clip-path:polygon(0 0,100% 0,100% 75%,61.2% 75%,61.2% 100%,45% 100%,45% 75%,0 75%)">1</span></span><span class="lw" style="width:38.81px"><span class="ls" style="transform:scaleX(1.2712)">.</span></span></div>
<div class="t" style="left:711.21px;top:440.77px;font-size:109.30px;color:#000"><span class="lw" style="width:49.93px"><span class="ls" style="transform:scaleX(0.9619)">2</span></span><span class="lw" style="width:38.81px"><span class="ls" style="transform:scaleX(1.2779)">.</span></span></div>
<div class="t" style="left:933.39px;top:586.28px;font-size:109.89px;color:#000"><span class="lw" style="width:48.85px"><span class="ls" style="transform:scaleX(0.8618)">3</span></span><span class="lw" style="width:38.81px"><span class="ls" style="transform:scaleX(1.2712)">.</span></span></div>
<div class="t" style="left:1830.53px;top:587.20px;font-size:107.27px;color:#078707"><span class="lw" style="width:67.64px"><span class="ls" style="transform:scaleX(0.8214)">C</span></span><span class="lw" style="width:60.19px"><span class="ls" style="transform:scaleX(0.8110)">P</span></span><span class="lw" style="width:64.71px"><span class="ls" style="transform:scaleX(0.8353)">R</span></span></div>
<div class="t" style="left:929.57px;top:755.28px;font-size:108.00px;color:#000"><span class="lw" style="width:52.67px"><span class="ls" style="transform:scaleX(1.0198)">4</span></span><span class="lw" style="width:38.81px"><span class="ls" style="transform:scaleX(1.2934)">.</span></span></div>
<div class="t b" style="left:1434.02px;top:759.30px;font-size:102.18px;color:#c00000;transform:scaleX(0.9741)">AED</div>
<div class="t" style="left:1240.70px;top:1073.76px;font-size:108.14px;color:#000"><span class="lw" style="width:71.96px"><span class="ls" style="transform:scaleX(0.9260)">A</span></span><span class="lw" style="width:52.13px"><span class="ls" style="transform:scaleX(0.6808)">E</span></span><span class="lw" style="width:74.01px"><span class="ls" style="transform:scaleX(0.9477)">D</span></span></div>
<div class="t" style="left:1153.70px;top:1853.87px;font-size:101.75px;color:#000;transform:scaleX(0.9328)">5</div>
<div class="t" style="left:1092.00px;top:2117.49px;font-size:108.58px;color:#000"><span class="lw" style="width:71.96px"><span class="ls" style="transform:scaleX(0.9223)">A</span></span><span class="lw" style="width:51.83px"><span class="ls" style="transform:scaleX(0.6780)">E</span></span><span class="lw" style="width:74.01px"><span class="ls" style="transform:scaleX(0.9439)">D</span></span></div>
<div class="sr">
<h1>C. AED及CPR步驟</h1>
<ol><li>患者情況：無意識 / 無呼吸 / 無循環現象</li><li>立即尋求協助</li><li>盡快施行心肺復蘇CPR</li><li>盡快使用AED</li></ol>
<p>貼上電擊墊</p><p>AED 分析患者心律</p>
<p>需要電擊 — 按電擊按鈕</p><p>不需要電擊 — 如果患者沒有呼吸和脈搏，立刻心肺復蘇</p>
<p>5個循環的心肺復蘇</p><p>AED自動分析患者心律</p>
</div>
</div>
</body>
</html>
